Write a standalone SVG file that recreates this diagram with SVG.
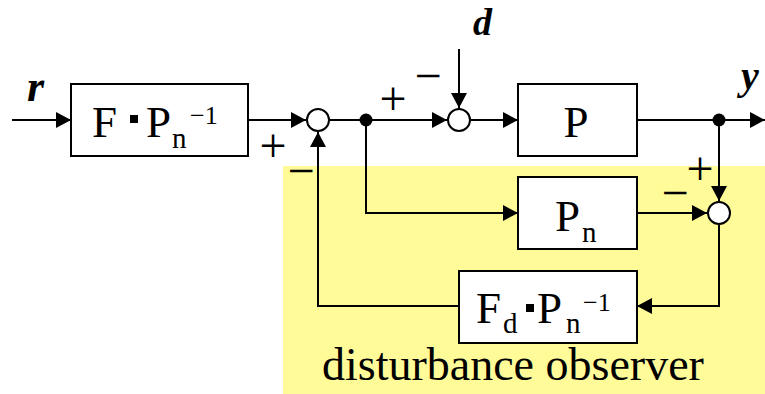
<svg xmlns="http://www.w3.org/2000/svg" width="765" height="394" viewBox="0 0 765 394">
<style>
.ln{fill:none;stroke:#000;stroke-width:2}
.box{fill:#fff;stroke:#000;stroke-width:2}
.sum{fill:#fff;stroke:#000;stroke-width:2}
.t{font-family:"Liberation Serif","Times New Roman",serif;fill:#000}
.big{font-size:45px}
.sub{font-size:29px}
.sup{font-size:26px}
.sg{font-size:48px;text-anchor:middle}
.var{font-family:"Liberation Serif","Times New Roman",serif;font-style:italic;font-weight:bold;fill:#000}
</style>
<defs>
<marker id="ah" markerUnits="userSpaceOnUse" markerWidth="15" markerHeight="16" refX="15" refY="8" orient="auto">
<path d="M0,0 L15,8 L0,16 z" fill="#000"/>
</marker>
</defs>
<rect x="283" y="166" width="482" height="228" fill="#FFFB99"/>
<g id="connectors">
<path class="ln" d="M12,120 H71" marker-end="url(#ah)"/>
<path class="ln" d="M248,120 H306" marker-end="url(#ah)"/>
<path class="ln" d="M330,120 H447" marker-end="url(#ah)"/>
<path class="ln" d="M459,49 V108" marker-end="url(#ah)"/>
<path class="ln" d="M471,120 H518" marker-end="url(#ah)"/>
<path class="ln" d="M637,120 H765" marker-end="url(#ah)"/>
<path class="ln" d="M719,120 V201" marker-end="url(#ah)"/>
<path class="ln" d="M366,120 V213 H518" marker-end="url(#ah)"/>
<path class="ln" d="M637,213 H707" marker-end="url(#ah)"/>
<path class="ln" d="M719,225 V306 H637" marker-end="url(#ah)"/>
<path class="ln" d="M459,306 H318 V132" marker-end="url(#ah)"/>
<circle cx="366" cy="120" r="6.5" fill="#000"/>
<circle cx="719" cy="120" r="6.5" fill="#000"/>
</g>
<g id="r-label"><text class="var" x="27" y="101" font-size="44">r</text></g>
<g id="d-label"><text class="var" x="473" y="35" font-size="38">d</text></g>
<g id="y-label"><text class="var" x="741" y="89" font-size="40">y</text></g>
<g id="ffwd">
<rect class="box" x="71" y="84" width="177" height="72"/>
<text class="t big" x="92" y="137">F</text>
<rect x="130" y="115" width="8" height="8" fill="#000"/>
<text class="t big" x="146" y="137">P</text>
<text class="t sub" x="172" y="148">n</text>
<text class="t sup" x="190" y="124">−1</text>
</g>
<g id="sum1">
<circle class="sum" cx="318" cy="120" r="11"/>
<text class="t sg" x="273" y="162">+</text>
<text class="t sg" x="301" y="187">−</text>
</g>
<g id="sum2">
<circle class="sum" cx="459" cy="120" r="11"/>
<text class="t sg" x="393" y="115">+</text>
<text class="t sg" x="428" y="92">−</text>
</g>
<g id="plant">
<rect class="box" x="518" y="84" width="119" height="72"/>
<text class="t big" x="576" y="137" text-anchor="middle">P</text>
</g>
<g id="model">
<rect class="box" x="518" y="177" width="119" height="72"/>
<text class="t big" x="555" y="231">P</text>
<text class="t sub" x="582" y="242">n</text>
</g>
<g id="sum3">
<circle class="sum" cx="719" cy="213" r="11"/>
<text class="t sg" x="700" y="185">+</text>
<text class="t sg" x="675" y="209">−</text>
</g>
<g id="filter">
<rect class="box" x="459" y="271" width="178" height="72"/>
<text class="t big" x="476" y="323">F</text>
<text class="t sub" x="503" y="333">d</text>
<rect x="526" y="304" width="8" height="8" fill="#000"/>
<text class="t big" x="537" y="323">P</text>
<text class="t sub" x="566" y="333">n</text>
<text class="t sup" x="583" y="311">−1</text>
</g>
<g id="dob-label">
<text class="t" x="322" y="380" font-size="46">disturbance observer</text>
</g>
</svg>
